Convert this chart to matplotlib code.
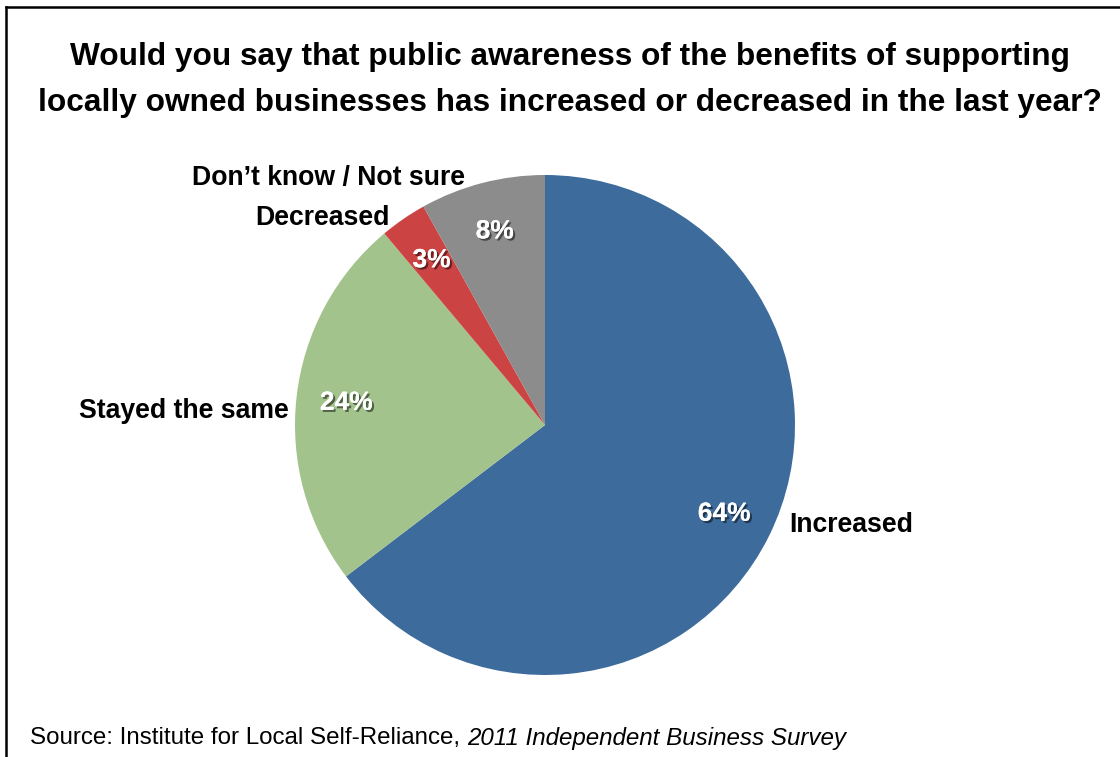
import matplotlib
matplotlib.use("Agg")
import matplotlib.pyplot as plt
import matplotlib.patheffects as pe
from matplotlib.lines import Line2D

plt.rcParams['font.family'] = ['Liberation Sans', 'DejaVu Sans']

# survey answers, clockwise from the top
categories = ["Increased", "Stayed the same", "Decreased", "Don\u2019t know / Not sure"]
shares = [64, 24, 3, 8]
colors = ["#3d6b9c", "#a2c38b", "#cb4443", "#8c8c8c"]

title = ("Would you say that public awareness of the benefits of supporting\n"
         "locally owned businesses has increased or decreased in the last year?")

fig = plt.figure(figsize=(11.2, 7.57), dpi=100)
fig.patch.set_facecolor("white")

# frame lines (top and left only, the rest is cropped in the original)
fig.add_artist(Line2D([6 / 1120, 1.0], [1 - 7 / 757, 1 - 7 / 757], color="black", lw=1.8))
fig.add_artist(Line2D([6 / 1120, 6 / 1120], [0.0, 1 - 7 / 757], color="black", lw=1.8))

fig.text(0.509, 1 - 80 / 757, title, ha="center", va="center", fontsize=22.8,
         fontweight="bold", linespacing=1.68)

ax = fig.add_axes([295 / 1120, 82 / 757, 500 / 1120, 500 / 757])
wedges, texts, autotexts = ax.pie(
    shares, colors=colors, startangle=90, counterclock=False,
    autopct="%.0f%%", pctdistance=0.8,
    wedgeprops=dict(linewidth=0))
ax.set_xlim(-1, 1)
ax.set_ylim(-1, 1)

# percentage labels with a soft shadow
shadow = [pe.withSimplePatchShadow(offset=(1.5, -1.5), shadow_rgbFace="black", alpha=0.5),
          pe.Normal()]
for t, v in zip(autotexts, shares):
    t.set_text(f"{v}%")
    t.set_color("white")
    t.set_fontsize(19)
    t.set_fontweight("bold")
    t.set_path_effects(shadow)

# outside category labels
label_pos = [(0.976, -0.398, "left"), (-1.024, 0.056, "right"),
             (-0.62, 0.828, "right"), (-0.32, 0.988, "right")]
for name, (x, y, ha) in zip(categories, label_pos):
    ax.text(x, y, name, ha=ha, va="center", fontsize=19.2, fontweight="bold")

src = fig.text(30 / 1120, 1 - 738 / 757, "Source: Institute for Local Self-Reliance, ",
               ha="left", va="center", fontsize=17.4)
fig.canvas.draw()
bb = src.get_window_extent()
fig.text(bb.x1 / 1120, 1 - 738 / 757, "2011 Independent Business Survey",
         ha="left", va="center", fontsize=17.4, style="italic")

fig.savefig("out.png", dpi=100)
